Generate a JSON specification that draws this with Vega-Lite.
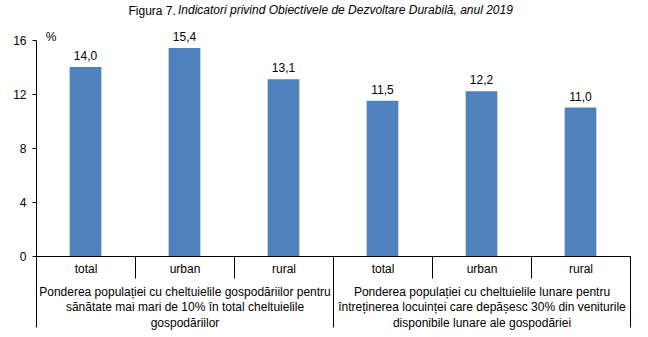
{
  "$schema": "https://vega.github.io/schema/vega-lite/v6.json",
  "width": 594,
  "height": 216,
  "autosize": {"type": "none"},
  "padding": {"left": 36, "top": 40, "right": 18, "bottom": 81},
  "title": {
    "text": "Indicatori privind Obiectivele de Dezvoltare Durabilă, anul 2019",
    "anchor": "start",
    "frame": "group",
    "dx": 142,
    "offset": -22,
    "baseline": "alphabetic",
    "fontStyle": "italic",
    "fontWeight": "normal",
    "fontSize": 12,
    "font": "Liberation Sans",
    "color": "#000000"
  },
  "config": {
    "view": {"stroke": null},
    "font": "Liberation Sans",
    "locale": {
      "number": {"decimal": ",", "thousands": ".", "grouping": [3], "currency": ["", " lei"]}
    },
    "axis": {
      "labelFont": "Liberation Sans",
      "labelFontSize": 12,
      "labelColor": "#000000",
      "tickColor": "#000000",
      "domainColor": "#000000",
      "titleFont": "Liberation Sans",
      "titleFontSize": 12,
      "titleFontWeight": "normal",
      "titleColor": "#000000",
      "grid": false
    }
  },
  "data": {
    "values": [
      {"key": "1|total", "grup": "Ponderea populației cu cheltuielile gospodăriilor pentru\nsănătate mai mari de 10% în total cheltuielile\ngospodăriilor", "val": 14.0},
      {"key": "1|urban", "grup": "Ponderea populației cu cheltuielile gospodăriilor pentru\nsănătate mai mari de 10% în total cheltuielile\ngospodăriilor", "val": 15.4},
      {"key": "1|rural", "grup": "Ponderea populației cu cheltuielile gospodăriilor pentru\nsănătate mai mari de 10% în total cheltuielile\ngospodăriilor", "val": 13.1},
      {"key": "2|total", "grup": "Ponderea populației cu cheltuielile lunare pentru\nîntreținerea locuinței care depășesc 30% din veniturile\ndisponibile lunare ale gospodăriei", "val": 11.5},
      {"key": "2|urban", "grup": "Ponderea populației cu cheltuielile lunare pentru\nîntreținerea locuinței care depășesc 30% din veniturile\ndisponibile lunare ale gospodăriei", "val": 12.2},
      {"key": "2|rural", "grup": "Ponderea populației cu cheltuielile lunare pentru\nîntreținerea locuinței care depășesc 30% din veniturile\ndisponibile lunare ale gospodăriei", "val": 11.0}
    ]
  },
  "layer": [
    {
      "mark": {"type": "bar", "color": "#4F81BD", "width": {"band": 0.32}},
      "encoding": {
        "x": {
          "field": "key", "type": "nominal", "sort": null,
          "scale": {"paddingInner": 0, "paddingOuter": 0},
          "axis": {
            "title": null, "labelAngle": 0,
            "labelExpr": "split(datum.label, '|')[1]",
            "tickBand": "extent", "tickSize": 22,
            "labelPadding": -15, "labelOverlap": false
          }
        },
        "y": {
          "field": "val", "type": "quantitative", "title": "%",
          "scale": {"domain": [0, 16]},
          "axis": {
            "values": [0, 4, 8, 12, 16], "tickSize": 4, "labelPadding": 6,
            "titleAngle": 0, "titleX": 14.5, "titleY": -4,
            "titleAlign": "center", "titleBaseline": "middle"
          }
        }
      }
    },
    {
      "mark": {"type": "text", "baseline": "alphabetic", "dy": -7, "fontSize": 12, "color": "#000000"},
      "encoding": {
        "x": {
          "field": "key", "type": "nominal", "sort": null,
          "scale": {"paddingInner": 0, "paddingOuter": 0},
          "axis": {
            "orient": "top", "labels": false, "ticks": false, "domain": false,
            "title": "Figura 7.", "titleX": 92, "titleY": -26,
            "titleAlign": "left", "titleBaseline": "alphabetic"
          }
        },
        "y": {
          "field": "val", "type": "quantitative", "title": "%",
          "scale": {"domain": [0, 16]},
          "axis": {
            "values": [0, 4, 8, 12, 16], "tickSize": 4, "labelPadding": 6,
            "titleAngle": 0, "titleX": 14.5, "titleY": -4,
            "titleAlign": "center", "titleBaseline": "middle"
          }
        },
        "text": {"field": "val", "type": "quantitative", "format": ".1f"}
      }
    },
    {
      "mark": {"type": "text", "text": ""},
      "encoding": {
        "x": {
          "field": "grup", "type": "nominal", "sort": null,
          "scale": {"paddingInner": 0, "paddingOuter": 0},
          "axis": {
            "title": null, "labelAngle": 0,
            "labelExpr": "split(datum.label, '\\n')",
            "tickBand": "extent", "tickSize": 71,
            "labelPadding": -41, "labelOverlap": false, "labelLimit": 0,
            "labelLineHeight": 15.5, "labelBaseline": "top", "domain": false
          }
        }
      }
    }
  ],
  "resolve": {"scale": {"x": "independent"}}
}
